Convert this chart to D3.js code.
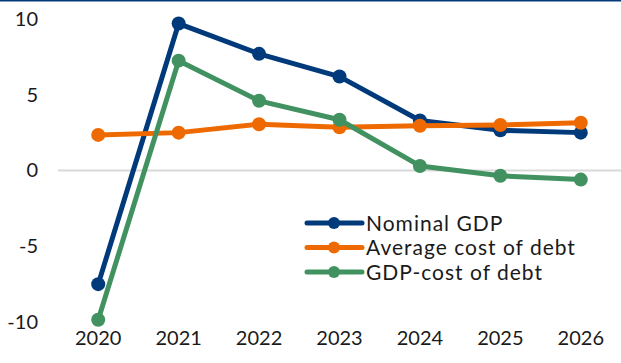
<!DOCTYPE html>
<html>
<head>
<meta charset="utf-8">
<script src="https://cdn.jsdelivr.net/npm/d3@7"></script>
<style>
  html, body { margin: 0; padding: 0; background: #fff; }
  svg { display: block; }
  text { font-family: Lato, "Noto Sans", sans-serif; fill: #1a1a1a; }
</style>
</head>
<body>
<svg id="chart" width="621" height="363"></svg>
<script>
// Growth of nominal GDP versus the average cost of government debt (%)
const years = ["2020", "2021", "2022", "2023", "2024", "2025", "2026"];
const nominalGDP = [-7.5, 9.7, 7.7, 6.2, 3.3, 2.65, 2.5];
const avgCostOfDebt = [2.35, 2.5, 3.05, 2.85, 2.95, 3.0, 3.15];
const gdpMinusCost = [-9.85, 7.25, 4.6, 3.35, 0.3, -0.35, -0.6];
const yTicks = [-10, -5, 0, 5, 10];

const seriesList = [
  { name: "Nominal GDP", values: nominalGDP, color: "#003A7A" },
  { name: "Average cost of debt", values: avgCostOfDebt, color: "#EE6A00" },
  { name: "GDP-cost of debt", values: gdpMinusCost, color: "#419260" }
];

const W = 621, H = 363;
const margin = { top: 19, right: 0, bottom: 41, left: 58 };
const svg = d3.select("#chart");

// top rule
svg.append("rect").attr("x", 0).attr("y", 0).attr("width", W).attr("height", 1.5)
  .attr("fill", "#003A7A");

const x = d3.scaleBand().domain(years).range([margin.left, W - margin.right]);
const y = d3.scaleLinear().domain([-10, 10]).range([H - margin.bottom, margin.top]);
const cx = d => x(d) + x.bandwidth() / 2;

// zero line
svg.append("line")
  .attr("x1", margin.left).attr("x2", W - margin.right)
  .attr("y1", y(0)).attr("y2", y(0))
  .attr("stroke", "#d9d9d9").attr("stroke-width", 2);

// y axis labels (plain hyphen for negatives)
const yAxis = d3.axisLeft(y).tickValues(yTicks).tickSize(0).tickPadding(0)
  .tickFormat(d => String(d));
const gy = svg.append("g").attr("transform", `translate(38,0)`).call(yAxis);
gy.select(".domain").remove();
gy.selectAll("text").style("font-size", "20px").attr("fill", "#1a1a1a")
  .style("font-family", "Lato, 'Noto Sans', sans-serif");

// x axis labels
const xAxis = d3.axisBottom(x).tickSize(0).tickPadding(0);
const gx = svg.append("g").attr("transform", `translate(0,${H - 24})`).call(xAxis);
gx.select(".domain").remove();
gx.selectAll("text").style("font-size", "20px").attr("fill", "#1a1a1a")
  .attr("dy", "0.3em")
  .style("font-family", "Lato, 'Noto Sans', sans-serif");

// series lines and markers
const line = d3.line().x((d, i) => cx(years[i])).y(d => y(d));
seriesList.forEach(s => {
  const g = svg.append("g");
  g.append("path").datum(s.values)
    .attr("d", line)
    .attr("fill", "none")
    .attr("stroke", s.color)
    .attr("stroke-width", 5)
    .attr("stroke-linejoin", "round");
  g.selectAll("circle").data(s.values).join("circle")
    .attr("cx", (d, i) => cx(years[i]))
    .attr("cy", d => y(d))
    .attr("r", 7)
    .attr("fill", s.color);
});

// legend
const legend = svg.append("g").attr("transform", "translate(307,223)");
seriesList.forEach((s, i) => {
  const row = legend.append("g").attr("transform", `translate(0,${i * 24.5})`);
  row.append("line").attr("x1", 0).attr("x2", 55).attr("y1", 0).attr("y2", 0)
    .attr("stroke", s.color).attr("stroke-width", 5).attr("stroke-linecap", "round");
  row.append("circle").attr("cx", 27).attr("cy", 0).attr("r", 6).attr("fill", s.color);
  row.append("text").attr("x", 59).attr("y", 0).attr("dy", "0.36em")
    .style("font-size", "21px").style("letter-spacing", "1px").text(s.name);
});
</script>
</body>
</html>
